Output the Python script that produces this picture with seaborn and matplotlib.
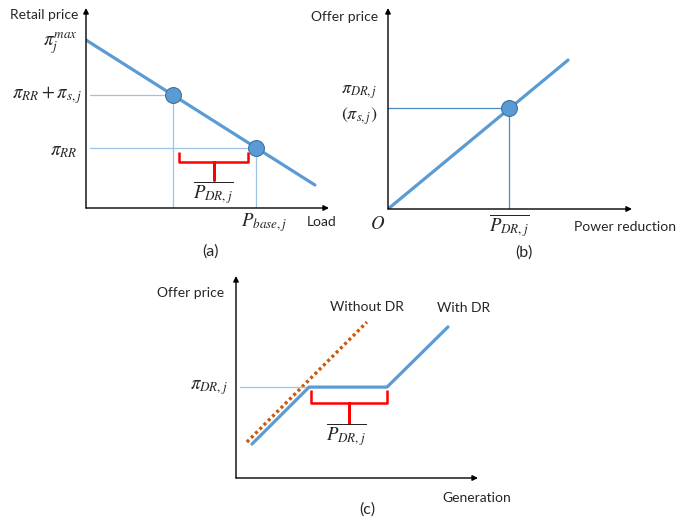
import numpy as np
import pandas as pd
import matplotlib
matplotlib.use("Agg")
import matplotlib.pyplot as plt
import seaborn as sns

# ---- data (each panel uses normalised 0..1 axis units) ----
# (a) retail demand curve
demand_load = [0.0, 0.942]
demand_price = [0.84, 0.115]
price_levels_a = [0.565, 0.30]          # pi_RR + pi_s,j  and  pi_RR
# (b) DR offer curve
offer_red = [0.0, 0.738]
offer_price = [0.0, 0.741]
dr_point_b = (0.496, 0.502)             # (P_DR,j , pi_DR,j)
# (c) generation offer curves
with_dr_gen = [0.066, 0.302, 0.624, 0.876]
with_dr_price = [0.168, 0.450, 0.450, 0.748]
without_dr_gen = [0.045, 0.541]
without_dr_price = [0.178, 0.772]

BLUE = "#5B9BD5"
EDGE = "#41719C"
THIN = "#9DC3E6"
THIN_B = "#4A8AC8"
ORANGE = "#C55A11"
RED = "#FF0000"

sns.set_theme(style="white")
plt.rcParams["font.family"] = ["Lato", "DejaVu Sans"]
plt.rcParams["mathtext.fontset"] = "stix"

W, H = 683, 521
fig = plt.figure(figsize=(W / 100, H / 100), dpi=100)


def make_axes(left, top, right, bottom):
    ax = fig.add_axes([left / W, 1 - bottom / H, (right - left) / W, (bottom - top) / H])
    ax.set_xlim(0, 1)
    ax.set_ylim(0, 1)
    ax.set_axis_off()
    kw = dict(arrowstyle="-|>", color="black", lw=1.0, mutation_scale=8, shrinkA=0, shrinkB=0)
    ax.annotate("", xy=(1.0, 0), xycoords="axes fraction", xytext=(0, 0), arrowprops=kw)
    ax.annotate("", xy=(0, 1.0), xycoords="axes fraction", xytext=(0, 0), arrowprops=kw)
    return ax


def brace(ax, x1, x2, top, bot, stem):
    xm = (x1 + x2) / 2
    ax.plot([x1, x1, xm, xm, xm, x2, x2], [top, bot, bot, stem, bot, bot, top],
            color=RED, lw=1.8, solid_joinstyle="round", solid_capstyle="butt")


MT = 13.5  # math label size
TX = 10    # plain label size
CAP = 11.5 # panel caption size

# ---------------- panel (a) ----------------
axa = make_axes(86, 8, 329, 208)
sns.lineplot(x=demand_load, y=demand_price, ax=axa, color=BLUE, lw=2.3, sort=False)
slope = (demand_price[1] - demand_price[0]) / (demand_load[1] - demand_load[0])
loads_a = [(p - demand_price[0]) / slope for p in price_levels_a]
for ld, pr in zip(loads_a, price_levels_a):
    axa.plot([0.016, ld], [pr, pr], color=THIN, lw=0.9)
    axa.plot([ld, ld], [0, pr], color=THIN, lw=0.9)
sns.scatterplot(x=loads_a, y=price_levels_a, ax=axa, s=130, color=BLUE,
                edgecolor=EDGE, linewidth=0.8, zorder=5, legend=False)
brace(axa, 0.383, 0.667, 0.28, 0.232, 0.14)
axa.text(0.523, 0.075, r"$\overline{P_{DR,j}}$", fontsize=MT, ha="center", va="center")
axa.text(-0.173, 0.965, "Retail price", fontsize=TX, ha="center", va="center")
axa.text(-0.033, 0.82, r"$\pi_j^{max}$", fontsize=MT, ha="right", va="center")
axa.text(-0.016, price_levels_a[0], r"$\pi_{RR}+\pi_{s,j}$", fontsize=MT, ha="right", va="center")
axa.text(-0.037, price_levels_a[1] - 0.015, r"$\pi_{RR}$", fontsize=MT, ha="right", va="center")
axa.text(0.733, -0.075, r"$P_{base,j}$", fontsize=MT, ha="center", va="center")
axa.text(0.971, -0.07, "Load", fontsize=TX, ha="center", va="center")
axa.text(0.514, -0.22, "(a)", fontsize=CAP, ha="center", va="center")

# ---------------- panel (b) ----------------
axb = make_axes(388, 8, 632, 209)
sns.lineplot(x=offer_red, y=offer_price, ax=axb, color=BLUE, lw=2.3, sort=False)
bx, by = dr_point_b
axb.plot([0, bx], [by, by], color=THIN_B, lw=0.9)
axb.plot([bx, bx], [0, by], color=THIN_B, lw=0.9)
sns.scatterplot(x=[bx], y=[by], ax=axb, s=130, color=BLUE, edgecolor=EDGE,
                linewidth=0.8, zorder=5, legend=False)
axb.text(-0.18, 0.955, "Offer price", fontsize=TX, ha="center", va="center")
axb.text(-0.045, 0.58, r"$\pi_{DR,j}$", fontsize=13, ha="right", va="center")
axb.text(-0.045, 0.46, r"$(\pi_{s,j})$", fontsize=13, ha="right", va="center")
axb.text(-0.041, -0.07, r"$O$", fontsize=MT, ha="center", va="center")
axb.text(bx, -0.085, r"$\overline{P_{DR,j}}$", fontsize=MT, ha="center", va="center")
axb.text(0.971, -0.09, "Power reduction", fontsize=TX, ha="center", va="center")
axb.text(0.557, -0.219, "(b)", fontsize=CAP, ha="center", va="center")

# ---------------- panel (c) ----------------
axc = make_axes(236, 276, 478, 478)
sns.lineplot(x=without_dr_gen, y=without_dr_price, ax=axc, color=ORANGE, lw=2.4,
             sort=False, linestyle=(0, (0.9, 0.9)))
axc.plot([0.016, with_dr_gen[1]], [with_dr_price[1]] * 2, color=THIN, lw=0.9)
sns.lineplot(x=with_dr_gen, y=with_dr_price, ax=axc, color=BLUE, lw=2.3, sort=False)
brace(axc, 0.31, 0.624, 0.436, 0.371, 0.272)
axc.text(0.455, 0.215, r"$\overline{P_{DR,j}}$", fontsize=MT, ha="center", va="center")
axc.text(-0.186, 0.916, "Offer price", fontsize=TX, ha="center", va="center")
axc.text(-0.033, with_dr_price[1], r"$\pi_{DR,j}$", fontsize=MT, ha="right", va="center")
axc.text(0.541, 0.847, "Without DR", fontsize=TX, ha="center", va="center")
axc.text(0.942, 0.842, "With DR", fontsize=TX, ha="center", va="center")
axc.text(0.996, -0.099, "Generation", fontsize=TX, ha="center", va="center")
axc.text(0.541, -0.158, "(c)", fontsize=CAP, ha="center", va="center")

fig.savefig("out.png", dpi=100, facecolor="white")
